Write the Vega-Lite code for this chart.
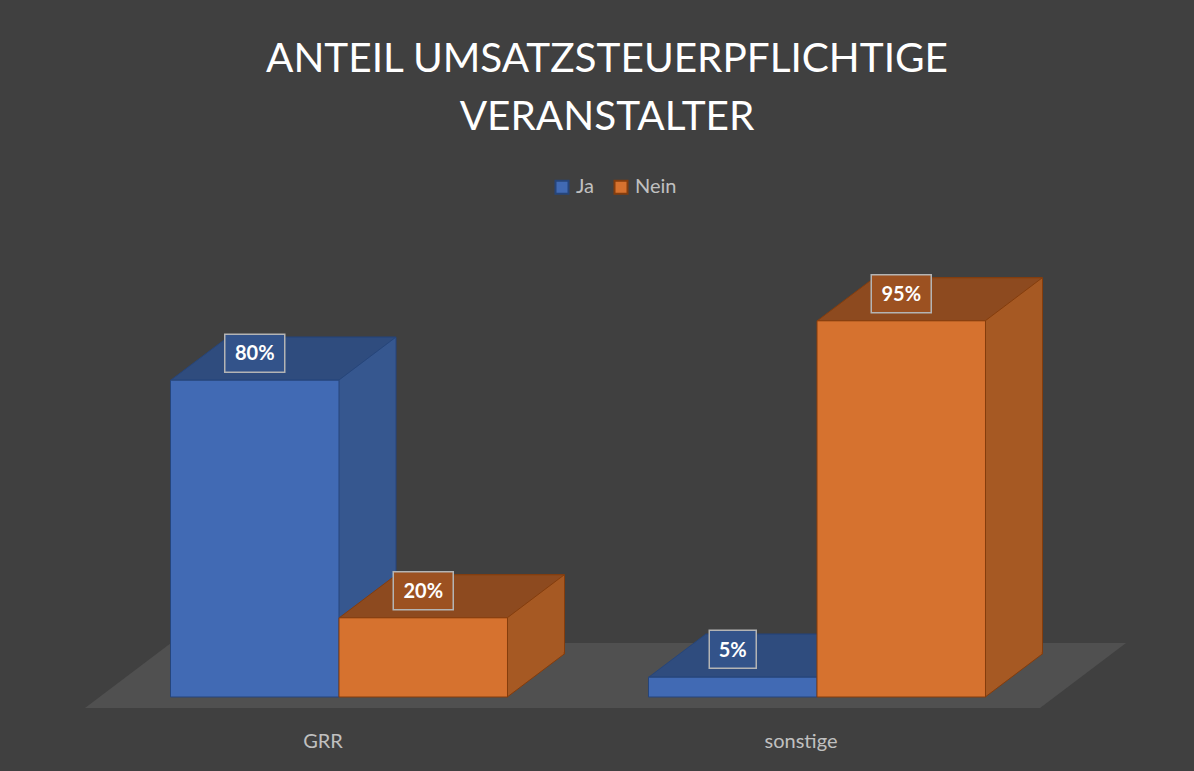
{
  "$schema": "https://vega.github.io/schema/vega-lite/v6.json",
  "width": 956,
  "height": 396,
  "autosize": {"type": "none"},
  "padding": {"left": 100, "top": 301, "right": 138, "bottom": 74},
  "background": "#404040",
  "config": {
    "view": {"stroke": null},
    "scale": {"offsetBandPaddingInner": 0, "offsetBandPaddingOuter": 0}
  },
  "title": {
    "text": ["ANTEIL UMSATZSTEUERPFLICHTIGE", "VERANSTALTER"],
    "font": "Lato",
    "fontSize": 40.5,
    "fontWeight": "normal",
    "color": "#ffffff",
    "lineHeight": 58,
    "anchor": "middle",
    "frame": "group",
    "dx": 29,
    "offset": -2,
    "baseline": "bottom"
  },
  "data": {
    "values": [
      {"Kategorie": "GRR", "Antwort": "Ja", "Wert": 0.8},
      {"Kategorie": "GRR", "Antwort": "Nein", "Wert": 0.2},
      {"Kategorie": "sonstige", "Antwort": "Ja", "Wert": 0.05},
      {"Kategorie": "sonstige", "Antwort": "Nein", "Wert": 0.95}
    ]
  },
  "resolve": {"scale": {"xOffset": "independent"}},
  "layer": [
    {
      "transform": [{"filter": "datum.Kategorie === 'GRR' && datum.Antwort === 'Ja'"}],
      "mark": {"type": "point", "shape": "M-493,11 L462,11 L548,-54 L-407,-54 Z", "size": 4, "filled": true, "fill": "#505050", "strokeWidth": 0, "opacity": 1},
      "encoding": {
        "y": {"datum": 0, "type": "quantitative", "scale": {"domain": [0, 1]}, "axis": null}
      }
    },
    {
      "mark": {"type": "bar", "yOffset": -43, "y2Offset": -43, "strokeWidth": 1},
      "encoding": {
        "x": {"field": "Kategorie", "type": "nominal", "sort": ["GRR", "sonstige"], "scale": {"paddingInner": 0.295, "paddingOuter": 0.1475},
          "axis": {"title": null, "domain": false, "ticks": false, "tickSize": 0, "labelFont": "Lato", "labelFontSize": 20, "labelColor": "#c0c0c0", "labelPadding": 34, "labelOffset": -16, "labelAngle": 0}},
        "xOffset": {"field": "Antwort", "type": "nominal", "sort": ["Ja", "Nein"], "scale": {"range": [57, 394]}},
        "y": {"field": "Wert", "type": "quantitative", "scale": {"domain": [0, 1]}, "axis": null},
        "fill": {"condition": {"test": "datum.Antwort === 'Ja'", "value": "#36578f"}, "value": "#a65923"},
        "stroke": {"condition": {"test": "datum.Antwort === 'Ja'", "value": "#26457a"}, "value": "#843d0d"}
      }
    },
    {
      "mark": {"type": "point", "shape": "M84,-45 L84,0 L141,-43 L141,-45", "size": 4, "filled": true, "strokeWidth": 1, "opacity": 1},
      "encoding": {
        "x": {"field": "Kategorie", "type": "nominal", "sort": ["GRR", "sonstige"]},
        "xOffset": {"field": "Antwort", "type": "nominal", "sort": ["Ja", "Nein"]},
        "y": {"datum": 0, "type": "quantitative"},
        "fill": {"condition": {"test": "datum.Antwort === 'Ja'", "value": "#36578f"}, "value": "#a65923"},
        "stroke": {"condition": {"test": "datum.Antwort === 'Ja'", "value": "#26457a"}, "value": "#843d0d"}
      }
    },
    {
      "mark": {"type": "point", "shape": "M-84,0 L84,0 L141,-43 L-27,-43 Z", "size": 4, "filled": true, "strokeWidth": 1, "opacity": 1},
      "encoding": {
        "x": {"field": "Kategorie", "type": "nominal", "sort": ["GRR", "sonstige"]},
        "xOffset": {"field": "Antwort", "type": "nominal", "sort": ["Ja", "Nein"]},
        "y": {"field": "Wert", "type": "quantitative"},
        "fill": {"condition": {"test": "datum.Antwort === 'Ja'", "value": "#2f4c7e"}, "value": "#8d4a1f"},
        "stroke": {"condition": {"test": "datum.Antwort === 'Ja'", "value": "#26457a"}, "value": "#843d0d"}
      }
    },
    {
      "mark": {"type": "bar", "strokeWidth": 1},
      "encoding": {
        "x": {"field": "Kategorie", "type": "nominal", "sort": ["GRR", "sonstige"]},
        "xOffset": {"field": "Antwort", "type": "nominal", "sort": ["Ja", "Nein"]},
        "y": {"field": "Wert", "type": "quantitative"},
        "fill": {"field": "Antwort", "type": "nominal", "sort": ["Ja", "Nein"],
          "scale": {"domain": ["Ja", "Nein"], "range": ["#416ab4", "#d6722f"]},
          "legend": {"orient": "none", "legendX": 452, "legendY": -124, "direction": "horizontal", "title": null, "labelFont": "Lato", "labelFontSize": 20, "labelColor": "#c0c0c0", "symbolType": "square", "symbolSize": 169, "symbolStrokeWidth": 2, "labelOffset": 4, "columnPadding": 16, "padding": 0}},
        "stroke": {"field": "Antwort", "type": "nominal", "sort": ["Ja", "Nein"],
          "scale": {"domain": ["Ja", "Nein"], "range": ["#26457a", "#843d0d"]},
          "legend": {"orient": "none", "legendX": 452, "legendY": -124, "direction": "horizontal", "title": null, "labelFont": "Lato", "labelFontSize": 20, "labelColor": "#c0c0c0", "symbolType": "square", "symbolSize": 169, "symbolStrokeWidth": 2, "labelOffset": 4, "columnPadding": 16, "padding": 0}}
      }
    },
    {
      "mark": {"type": "point", "size": 4, "filled": true, "strokeWidth": 1.5, "stroke": "#b4b4b4", "opacity": 1},
      "encoding": {
        "x": {"field": "Kategorie", "type": "nominal", "sort": ["GRR", "sonstige"]},
        "xOffset": {"field": "Antwort", "type": "nominal", "sort": ["Ja", "Nein"]},
        "y": {"field": "Wert", "type": "quantitative"},
        "shape": {"condition": {"test": "datum.Wert < 0.1", "value": "M-23.5,-47 L23.5,-47 L23.5,-9 L-23.5,-9 Z"}, "value": "M-30,-46 L30,-46 L30,-8 L-30,-8 Z"},
        "fill": {"condition": {"test": "datum.Antwort === 'Ja'", "value": "#33538a"}, "value": "#9c5121"}
      }
    },
    {
      "mark": {"type": "text", "font": "Lato", "fontSize": 20, "fontWeight": "bold", "fill": "#ffffff", "dy": -26, "baseline": "middle"},
      "encoding": {
        "x": {"field": "Kategorie", "type": "nominal", "sort": ["GRR", "sonstige"]},
        "xOffset": {"field": "Antwort", "type": "nominal", "sort": ["Ja", "Nein"]},
        "y": {"field": "Wert", "type": "quantitative"},
        "text": {"field": "Wert", "type": "quantitative", "format": ".0%"}
      }
    }
  ]
}
